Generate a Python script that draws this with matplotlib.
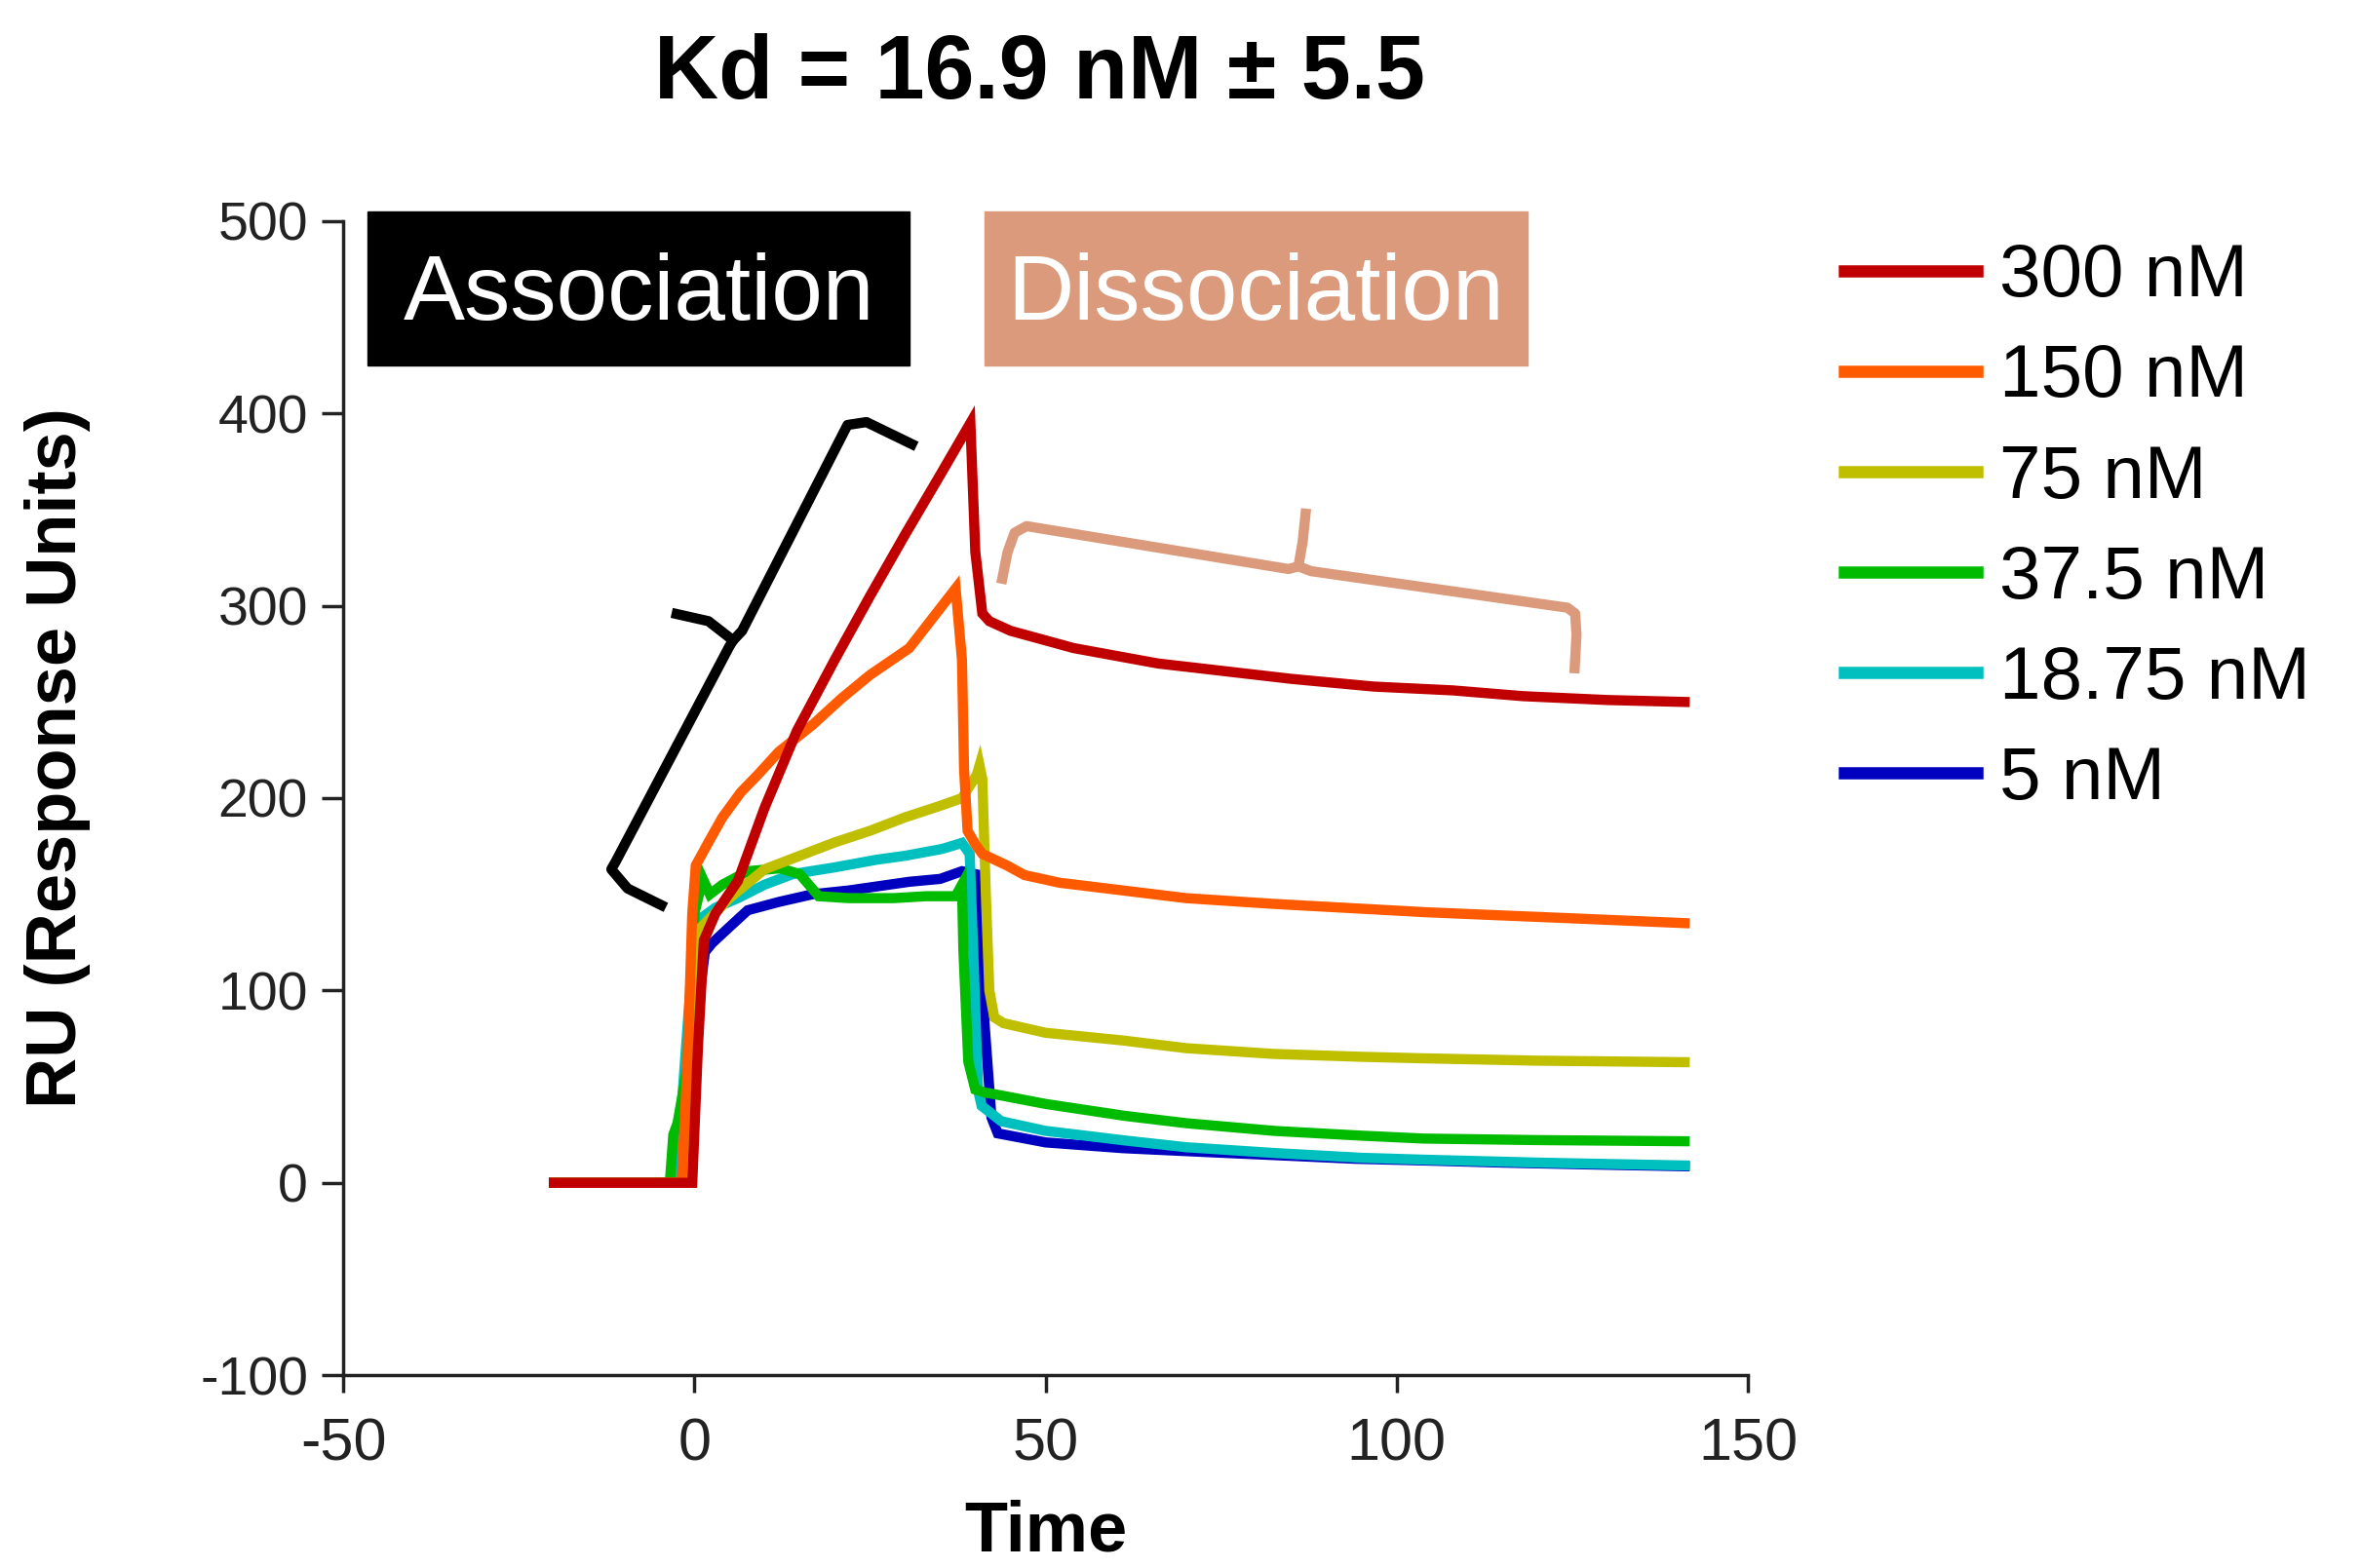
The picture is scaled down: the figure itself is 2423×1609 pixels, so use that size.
import matplotlib
matplotlib.use("Agg")
import matplotlib.pyplot as plt
from matplotlib.patches import Rectangle
from matplotlib.lines import Line2D

plt.rcParams['font.family'] = ['Liberation Sans', 'DejaVu Sans']
plt.rcParams['axes.unicode_minus'] = False

# sensorgram traces (time in s, response in RU)
t_300 = [-20, -0.3, 0.5, 1.35, 3, 6.2, 10, 14.6, 20, 25, 30, 35, 39.3, 40, 41, 42, 45, 50, 54, 60, 66, 75.5, 85, 96.7, 108, 118, 130, 141]
ru_300 = [0, 0, 70, 126, 140, 157, 195, 235, 272, 305, 337, 368, 395, 328, 296, 292, 287, 282, 278, 274, 270, 266, 262, 258, 256, 253, 251, 250]

t_150 = [-20, -1.8, -1, -0.3, 0.2, 2, 4, 6.6, 9, 12, 16.8, 21, 25, 30.6, 37.2, 38.1, 38.4, 38.9, 40, 41, 44.5, 47, 52, 61, 70, 82.5, 95, 104, 115, 125, 141]
ru_150 = [0, 0, 60, 140, 165, 177, 190, 203, 212, 224, 238, 252, 264, 278, 309, 272, 215, 183, 176, 171, 165, 160, 156, 152, 148, 145, 142.5, 140.7, 139, 137.5, 135]

t_75 = [-20, -0.5, 0.3, 1, 5, 10, 15, 20, 25, 30, 35, 38.1, 40.2, 40.6, 41, 41.5, 42, 42.7, 44, 50, 61, 70, 82.5, 95, 104, 120, 141]
ru_75 = [0, 0, 120, 133, 148, 163, 170, 177, 183, 190, 196, 200, 212, 217, 210, 150, 100, 86, 83, 78, 74, 70, 67, 65.5, 64.7, 63.5, 62.7]

t_37 = [-20, -3.5, -3, -2.4, -1, 0, 1.2, 2.2, 4, 7.6, 12.2, 15, 17.7, 22, 28.4, 33, 37.2, 38.1, 38.3, 39, 40, 41.3, 43.7, 50, 61.3, 70, 82.5, 95, 103.8, 120, 141]
ru_37 = [0, 0, 25, 31, 60, 140, 158, 150, 155, 162, 163.5, 160.5, 149, 148, 148, 149, 149, 155, 121, 63, 48.5, 47, 45.4, 41, 34.8, 31, 27, 24.5, 23, 22.2, 21.6]

t_18 = [-20, -3, -2, 0, 1.1, 3, 6.2, 10, 14, 20, 26, 30, 35.3, 38.1, 39.2, 39.7, 40.4, 40.9, 43.7, 50, 61.3, 70, 82.5, 95, 104, 120, 141]
ru_18 = [0, 0, 30, 130, 138, 143, 148, 155, 160.5, 164, 168, 170, 173.6, 176.7, 171, 121, 48, 40, 32, 27, 22, 18.5, 15.5, 13, 12, 10.5, 9]

t_5 = [-20, -0.5, 0.8, 1.5, 2.5, 5, 7.6, 12, 16.8, 22, 30.6, 35, 38.1, 40.6, 41, 41.3, 42.3, 43.2, 50, 61, 72.7, 85, 94, 105, 115, 128, 141]
ru_5 = [0, 0, 100, 120, 124.5, 133, 141.7, 146, 150, 152, 156.5, 158, 162, 160, 113, 83.5, 34, 25.7, 21, 18, 16, 14, 12.5, 11.5, 10.5, 9.5, 8.6]

labels = ['300 nM', '150 nM', '75 nM', '37.5 nM', '18.75 nM', '5 nM']
colors = ['#C00000', '#FF5A00', '#BFBF00', '#00BB00', '#00BFBF', '#0000BF']
times = [t_300, t_150, t_75, t_37, t_18, t_5]
values = [ru_300, ru_150, ru_75, ru_37, ru_18, ru_5]

fig = plt.figure(figsize=(24.23, 16.09), dpi=100)
ax = fig.add_axes([0.1453, 0.123, 0.5947, 0.736])

# lowest concentration first so 300 nM sits on top
for t, v, c in reversed(list(zip(times, values, colors))):
    ax.plot(t, v, color=c, lw=7.5, solid_joinstyle='miter')

ax.set_xlim(-50, 150)
ax.set_ylim(-100, 500)
ax.set_xticks([-50, 0, 50, 100, 150])
ax.set_yticks([-100, 0, 100, 200, 300, 400, 500])
for s in ['top', 'right']:
    ax.spines[s].set_visible(False)
for s in ['left', 'bottom']:
    ax.spines[s].set_linewidth(2.5)
    ax.spines[s].set_color('#222222')
ax.tick_params(axis='y', length=16, width=2.5, pad=10, labelsize=40, colors='#222222')
ax.tick_params(axis='x', length=13, width=2.5, pad=18, labelsize=44, colors='#222222')

ax.set_ylabel('RU (Response Units)', fontsize=52, fontweight='bold')
ax.yaxis.set_label_coords(-0.18, 0.535)
ax.set_xlabel('Time', fontsize=52, fontweight='bold')
ax.xaxis.set_label_coords(0.5, -0.108)

fig.text(0.44, 0.952, 'Kd = 16.9 nM \u00b1 5.5', fontsize=66, fontweight='bold',
         ha='center', va='center')

# phase boxes
salmon = '#DA9A7B'
ax.add_patch(Rectangle((-46.5, 425), 77.1, 80, color='black', clip_on=False, zorder=5))
ax.text(-7.95, 461, 'Association', color='white', fontsize=68, ha='center', va='center', zorder=6)
ax.add_patch(Rectangle((41.3, 425), 77.3, 80, color=salmon, clip_on=False, zorder=5))
ax.text(79.95, 461, 'Dissociation', color='white', fontsize=68, ha='center', va='center', zorder=6)

# braces
kw = dict(lw=7.5, solid_joinstyle='round', solid_capstyle='butt', clip_on=False, zorder=4)
ax.plot([-4.06, -9.5, -11.83, -11.2, 5.0, 5.52, 2.0, -3.23], [143.2, 153, 163, 167, 279, 282, 292, 296.3], color='black', **kw)
ax.plot([5.52, 6.8, 21.8, 24.5, 31.61], [282, 287, 394, 395.5, 382.9], color='black', **kw)
ax.plot([43.7, 44.6, 45.6, 47.3, 84.6, 86.0, 86.6, 87.1], [311.5, 328, 338, 341.4, 319.1, 320.5, 333, 350.5], color=salmon, **kw)
ax.plot([86.0, 87.8, 124.3, 125.4, 125.6, 125.3], [320.5, 318, 299, 296, 285, 264.9], color=salmon, **kw)

handles = [Line2D([0], [0], color=c, lw=9) for c in colors]
fig.legend(handles, labels, loc='upper left', bbox_to_anchor=(0.781, 0.845), frameon=False,
           fontsize=55, handlelength=1.78, handletextpad=0.3, labelspacing=0.42,
           borderpad=0, borderaxespad=0)

fig.savefig('out.png', dpi=100)
